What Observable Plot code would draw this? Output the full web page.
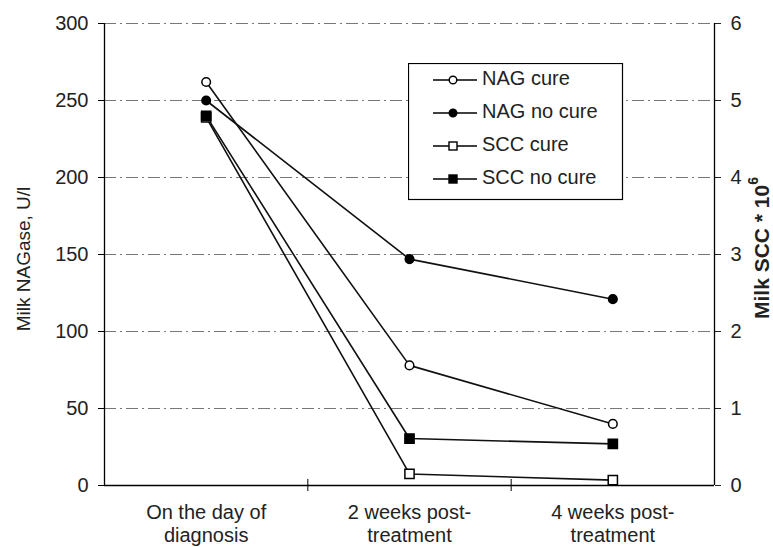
<!DOCTYPE html>
<html><head><meta charset="utf-8">
<script src="https://cdn.jsdelivr.net/npm/d3@7"></script>
<script src="https://cdn.jsdelivr.net/npm/@observablehq/plot@0.6"></script>
<style>
body{margin:0;background:#fff;font-family:"Liberation Sans",Arial,sans-serif;}
#wrap{position:relative;width:773px;height:547px;}
#legend{position:absolute;left:408px;top:63px;}
</style></head><body><div id="wrap"></div>
<script>
const categories = ["On the day of\ndiagnosis", "2 weeks post-\ntreatment", "4 weeks post-\ntreatment"];
const nagCure = [262, 78, 40];
const nagNoCure = [250, 147, 121];
const sccCure = [4.78, 0.15, 0.07];
const sccNoCure = [4.8, 0.61, 0.54];
const leftTicks = [0, 50, 100, 150, 200, 250, 300];
const rightTicks = [0, 1, 2, 3, 4, 5, 6];
const seriesNames = ["NAG cure", "NAG no cure", "SCC cure", "SCC no cure"];

const ratio = 300 / 6; // right axis (SCC*10^6) to left axis (U/l)
const seriesDefs = [
  {name: seriesNames[0], values: nagCure, k: 1, shape: "circle", filled: false},
  {name: seriesNames[1], values: nagNoCure, k: 1, shape: "circle", filled: true},
  {name: seriesNames[2], values: sccCure, k: ratio, shape: "square", filled: false},
  {name: seriesNames[3], values: sccNoCure, k: ratio, shape: "square", filled: true}
];
const rows = seriesDefs.flatMap(s => s.values.map((v, i) => ({series: s.name, i, x: i + 0.5, y: v * s.k})));

const dotMarks = seriesDefs.map(s => Plot.dot(rows.filter(r => r.series === s.name), {
  x: "x", y: "y", symbol: s.shape, r: s.shape === "circle" ? 4.3 : 5.2,
  fill: s.filled ? "black" : "white", stroke: "black", strokeWidth: 1.5
}));

const chart = Plot.plot({
  width: 773, height: 547,
  marginLeft: 104, marginRight: 59, marginTop: 23, marginBottom: 62,
  style: {fontFamily: "'Liberation Sans', Arial, sans-serif", fontSize: "20px", color: "#222", background: "white"},
  x: {domain: [0, categories.length]},
  y: {domain: [0, 300]},
  marks: [
    Plot.ruleY(leftTicks.filter(d => d > 0), {stroke: "#777", strokeWidth: 1, strokeDasharray: "12,4,2,4"}),
    Plot.axisY({anchor: "left", ticks: leftTicks, tickSize: 6, tickPadding: 10, fontSize: 20, label: null, stroke: "black"}),
    Plot.axisY({anchor: "right", ticks: rightTicks.map(d => d * ratio), tickFormat: d => String(d / ratio), tickSize: 6, tickPadding: 10, fontSize: 20, label: null}),
    Plot.axisX({ticks: categories.map((_, i) => i + 0.5), tickFormat: d => categories[Math.floor(d)], tickSize: 0, tickPadding: 17, fontSize: 20, lineHeight: 1.15, label: null}),
    Plot.ruleX(d3.range(1, categories.length), {y1: 0, y2: 0, insetTop: -6, insetBottom: -6, stroke: "black"}),
    Plot.ruleX([0, categories.length], {stroke: "black", strokeWidth: 1.3}),
    Plot.ruleY([0], {stroke: "black", strokeWidth: 1.3}),
    Plot.line(rows, {x: "x", y: "y", z: "series", stroke: "#111", strokeWidth: 1.6}),
    ...dotMarks
  ]
});

const wrap = document.getElementById("wrap");
wrap.appendChild(chart);
const svg = d3.select(chart);
svg.append("text")
  .attr("transform", "translate(25,259) rotate(-90)")
  .attr("text-anchor", "middle").attr("dominant-baseline", "middle")
  .attr("font-size", 19).attr("fill", "#222")
  .text("Milk NAGase, U/l");
const rl = svg.append("text")
  .attr("transform", "translate(763,248) rotate(-90)")
  .attr("text-anchor", "middle").attr("dominant-baseline", "middle")
  .attr("font-size", 21).attr("font-weight", "bold").attr("fill", "#222");
rl.append("tspan").text("Milk SCC * 10");
rl.append("tspan").attr("font-size", 14).attr("dy", -9).text("6");

// Legend
const lg = d3.select(wrap).append("svg").attr("id", "legend").attr("width", 216).attr("height", 138);
lg.append("rect").attr("x", 0.5).attr("y", 0.5).attr("width", 214).attr("height", 136)
  .attr("fill", "white").attr("stroke", "black").attr("stroke-width", 1.2);
seriesDefs.forEach((s, j) => {
  const yy = 17 + j * 33;
  const g = lg.append("g").attr("transform", `translate(0,${yy})`);
  g.append("line").attr("x1", 25).attr("x2", 69).attr("y1", 0).attr("y2", 0).attr("stroke", "black").attr("stroke-width", 1.5);
  if (s.shape === "circle") {
    g.append("circle").attr("cx", 45).attr("cy", 0).attr("r", 3.8).attr("fill", s.filled ? "black" : "white").attr("stroke", "black").attr("stroke-width", 1.4);
  } else {
    g.append("rect").attr("x", 41).attr("y", -4).attr("width", 8).attr("height", 8).attr("fill", s.filled ? "black" : "white").attr("stroke", "black").attr("stroke-width", 1.4);
  }
  g.append("text").attr("x", 74).attr("y", 0).attr("dominant-baseline", "middle")
    .attr("font-size", 20).attr("fill", "#222").style("font-family", "'Liberation Sans', Arial, sans-serif").text(s.name);
});
</script></body></html>
